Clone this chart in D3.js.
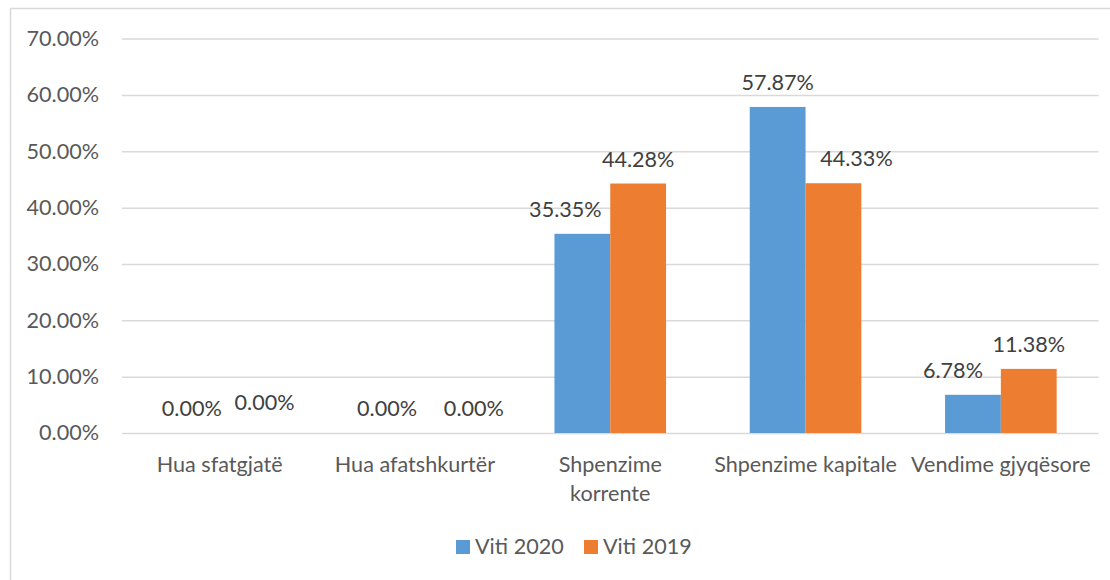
<!DOCTYPE html>
<html lang="en">
  <head>
    <meta charset="UTF-8" />
    <title>D3 JS</title>
    <script src="https://d3js.org/d3.v7.min.js"></script>
    <style>
      body { margin: 0; background: #fff; }
      text { font-family: Lato, "Open Sans", sans-serif; }
    </style>
  </head>
  <body>
    <div id="my_dataviz"></div>
    <script>
      // data
      const categories = ['Hua sfatgjatë', 'Hua afatshkurtër', 'Shpenzime\nkorrente', 'Shpenzime kapitale', 'Vendime gjyqësore'];
      const seriesNames = ['Viti 2020', 'Viti 2019'];
      const viti2020 = [0, 0, 0.3535, 0.5787, 0.0678];
      const viti2019 = [0, 0, 0.4428, 0.4433, 0.1138];
      const yTicks = [0, 0.1, 0.2, 0.3, 0.4, 0.5, 0.6, 0.7];

      // hand nudges for the data labels (excel moved some of them)
      const labelNudge = [
        [[0, 0], [17, -6]],
        [[0, 0], [31, 0]],
        [[-17, 0], [0, 0]],
        [[0, 0], [23, 0]],
        [[-20, 0], [0, 0]]
      ];

      const colors = ['#5b9bd5', '#ed7d31'];
      const fontSize = '21.6px';
      const W = 1110, H = 580;
      const plot = { left: 122, right: 1098.5, top: 38.6, bottom: 433 };

      const svg = d3.select('#my_dataviz')
        .append('svg')
          .attr('width', W)
          .attr('height', H);

      // chart frame
      svg.append('rect')
        .attr('x', 10.5).attr('y', 8.5)
        .attr('width', W + 20).attr('height', H + 20)
        .attr('fill', '#fff')
        .attr('stroke', '#d9d9d9')
        .attr('stroke-width', 1.5);

      const yScale = d3.scaleLinear()
        .domain([0, 0.7])
        .range([plot.bottom, plot.top]);

      const xScale = d3.scaleBand()
        .domain(categories)
        .range([plot.left, plot.right])
        .paddingInner(0.4286)
        .paddingOuter(0.2143);

      const xSub = d3.scaleBand()
        .domain(seriesNames)
        .range([0, xScale.bandwidth()]);

      // y axis with gridlines
      const yAxis = svg.append('g')
        .attr('transform', `translate(${plot.left}, 0)`)
        .call(d3.axisLeft(yScale)
          .tickValues(yTicks)
          .tickFormat(d3.format('.2%'))
          .tickSize(-(plot.right - plot.left))
          .tickPadding(23));
      yAxis.select('.domain').remove();
      yAxis.selectAll('.tick line')
        .attr('stroke', '#d9d9d9')
        .attr('stroke-width', 1.5);
      yAxis.selectAll('.tick text')
        .attr('fill', '#595959')
        .style('font-size', fontSize);

      // x axis labels
      const xAxis = svg.append('g');
      const catLabel = xAxis.selectAll('text')
        .data(categories)
        .enter()
        .append('text')
          .attr('x', d => xScale(d) + xScale.bandwidth() / 2)
          .attr('y', 472)
          .attr('text-anchor', 'middle')
          .attr('fill', '#595959')
          .style('font-size', fontSize);
      catLabel.selectAll('tspan')
        .data(d => d.split('\n'))
        .enter()
        .append('tspan')
          .attr('x', function () { return this.parentNode.getAttribute('x'); })
          .attr('dy', (d, i) => i === 0 ? 0 : 29)
          .text(d => d);

      // bars
      const rows = categories.map((c, i) => ({
        cat: c,
        idx: i,
        values: [viti2020[i], viti2019[i]]
      }));

      const group = svg.selectAll('.group')
        .data(rows)
        .enter()
        .append('g')
          .attr('class', 'group')
          .attr('transform', d => `translate(${xScale(d.cat)}, 0)`);

      group.selectAll('rect')
        .data(d => d.values.map((v, s) => ({ v, s, idx: d.idx })))
        .enter()
        .append('rect')
          .attr('x', d => xSub(seriesNames[d.s]))
          .attr('y', d => yScale(d.v))
          .attr('width', xSub.bandwidth())
          .attr('height', d => yScale(0) - yScale(d.v))
          .attr('fill', d => colors[d.s]);

      group.selectAll('.lbl')
        .data(d => d.values.map((v, s) => ({ v, s, idx: d.idx })))
        .enter()
        .append('text')
          .attr('class', 'lbl')
          .attr('x', d => xSub(seriesNames[d.s]) + xSub.bandwidth() / 2 + labelNudge[d.idx][d.s][0])
          .attr('y', d => yScale(d.v) - 17 + labelNudge[d.idx][d.s][1])
          .attr('text-anchor', 'middle')
          .attr('fill', '#404040')
          .style('font-size', fontSize)
          .text(d => d3.format('.2%')(d.v));

      // legend
      const legend = svg.append('g')
        .attr('transform', 'translate(456, 540)');
      const item = legend.selectAll('g')
        .data(seriesNames)
        .enter()
        .append('g')
          .attr('transform', (d, i) => `translate(${i * 128}, 0)`);
      item.append('rect')
        .attr('width', 14)
        .attr('height', 14)
        .attr('fill', (d, i) => colors[i]);
      item.append('text')
        .attr('x', 19)
        .attr('y', 14)
        .attr('fill', '#595959')
        .style('font-size', fontSize)
        .text(d => d);
    </script>
  </body>
</html>
